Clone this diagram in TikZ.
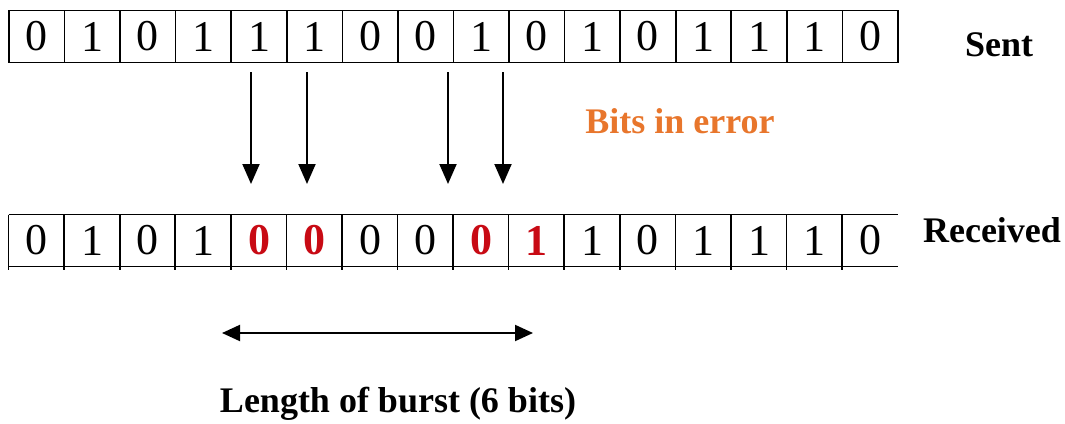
\documentclass[tikz,border=0pt]{standalone}
\usepackage{fontspec}
\setmainfont{Liberation Serif}
\usepackage{xcolor}
\usepackage{tikz}
\usetikzlibrary{arrows.meta}

\definecolor{errorange}{RGB}{232,118,44}
\definecolor{errred}{RGB}{200,10,20}

\tikzset{
  bitcell/.style={rectangle, inner sep=0pt, minimum width=27.78pt, minimum height=26pt,
    font=\fontsize{22}{24}\selectfont},
  plain/.style={},
  flip/.style={text=errred, font=\fontsize{22}{24}\selectfont\bfseries},
  label/.style={font=\fontsize{18}{21}\selectfont\bfseries},
  hit/.style={line width=1pt, -{Triangle[length=10pt, width=8.5pt]}}
}

\begin{document}
\begin{tikzpicture}[x=0.5pt, y=-0.5pt]
  \useasboundingbox (0,0) rectangle (1065,423);

  % sent word
  \foreach \b [count=\i] in {0,1,0,1,1,1,0,0,1,0,1,0,1,1,1,0}
    \node[bitcell, draw, line width=0.8pt] (s\i) at ({9+55.56*(\i-0.5)},36.5) {\b};
  \node[label] (sent) at (999,45) {Sent};

  % received word, flipped bits in red
  \foreach \b/\s [count=\i] in {0/plain,1/plain,0/plain,1/plain,0/flip,0/flip,0/plain,0/plain,
                                0/flip,1/flip,1/plain,0/plain,1/plain,1/plain,1/plain,0/plain}
    \node[bitcell, \s, minimum height=25.5pt] (r\i) at ({9+55.56*(\i-0.5)},240.5) {\b};
  \draw[line width=0.8pt] (r1.north west) -- (r16.north east);
  \draw[line width=0.8pt] (r1.south west) -- (r16.south east);
  \foreach \i in {1,...,16}
    \draw[line width=0.8pt] (r\i.north west) -- ([yshift=-2pt]r\i.south west);
  \node[label] (recv) at (992,230) {Received};

  % bits in error
  \coordinate (a1) at (251,72);  \coordinate (b1) at (251,184);
  \coordinate (a2) at (307,72);  \coordinate (b2) at (307,184);
  \coordinate (a3) at (448,72);  \coordinate (b3) at (448,184);
  \coordinate (a4) at (503,72);  \coordinate (b4) at (503,184);
  \foreach \i in {1,...,4}
    \draw[hit] (a\i) -- (b\i);
  \node[label, text=errorange] (errs) at (680,121) {Bits in error};

  % burst length
  \coordinate (bl) at (222,333);
  \coordinate (br) at (533,333);
  \draw[line width=1pt, {Triangle[length=9pt, width=8pt]}-{Triangle[length=9pt, width=8pt]}] (bl) -- (br);
  \node[label] (burst) at (398,404) {Length of burst (6 bits)};
\end{tikzpicture}
\end{document}
